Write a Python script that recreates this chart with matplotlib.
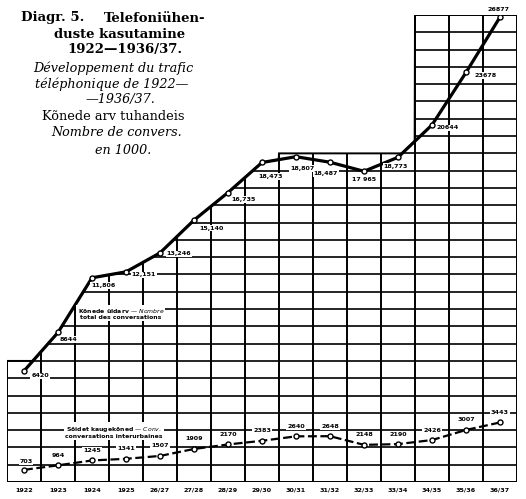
import numpy as np
import matplotlib
matplotlib.use("Agg")
import matplotlib.pyplot as plt
from matplotlib.patches import Polygon

# ---- data (thousands of conversations) ----
periods = ["1922", "1923", "1924", "1925", "26/27", "27/28", "28/29", "29/30",
           "30/31", "31/32", "32/33", "33/34", "34/35", "35/36", "36/37"]
total_calls = [6420, 8644, 11806, 12151, 13246, 15140, 16735, 18473,
               18807, 18487, 17965, 18773, 20644, 23678, 26877]
long_distance = [703, 964, 1245, 1341, 1507, 1909, 2170, 2383,
                 2640, 2648, 2148, 2190, 2426, 3007, 3443]

# ---- layout helpers (pixel offsets for labels: dx, dy; dy>0 up) ----
total_offsets = [(16, -5), (11, -7), (11, -8), (18, -3), (19, -1), (18, -8),
                 (16, -7), (9, -14), (6, -12), (-4, -11), (0, -8), (-2, -9),
                 (16, -3), (20, -3), (-1, 8)]
ld_offsets = [(2, 8)] + [(0, 10)] * 14

W, H = 526, 499
fig = plt.figure(figsize=(W / 100, H / 100), dpi=100)
ax = fig.add_axes([7 / W, (H - 482) / H, 510 / W, 467 / H])
n = len(periods)
x = np.arange(n)
ax.set_xlim(-0.5, n - 0.5)
ax.set_ylim(0, 27000)
ax.axis("off")

# ---- envelope of the grid: area under the curve plus stepped boxes ----
xs = np.linspace(-0.5, n - 0.5, 1501)
curve = np.interp(xs, x, total_calls)
left_slope = total_calls[1] - total_calls[0]
curve = np.where(xs < 0, total_calls[0] + left_slope * xs, curve)
step = np.zeros_like(xs)
step[xs <= 0.5] = 7000
step[(xs >= 7.5) & (xs <= 11.5)] = 19000
step[xs >= 11.5] = 27000
top = np.maximum(curve, step)
poly_pts = np.column_stack([np.r_[xs, xs[::-1]], np.r_[top, np.zeros_like(xs)]])
clip = Polygon(poly_pts, closed=True, transform=ax.transData, fill=False,
               edgecolor="black", lw=1.4)
ax.add_patch(clip)

for yv in range(0, 27001, 1000):
    ln, = ax.plot([-0.5, n - 0.5], [yv, yv], color="black", lw=1.2,
                  solid_capstyle="butt")
    ln.set_clip_path(clip)
for xe in np.arange(-0.5, n, 1.0):
    ln, = ax.plot([xe, xe], [0, 27000], color="black", lw=1.4)
    ln.set_clip_path(clip)

# ---- series ----
ax.plot(x, total_calls, color="black", lw=2.3, zorder=5)
ax.plot(x, total_calls, ls="none", marker="o", ms=3.6, mfc="white",
        mec="black", mew=1.0, zorder=6)
ax.plot(x, long_distance, color="black", lw=1.6, ls=(0, (4, 1.6)), zorder=5)
ax.plot(x, long_distance, ls="none", marker="o", ms=3.6, mfc="white",
        mec="black", mew=1.0, zorder=6)

lab_kw = dict(fontsize=4.6, fontweight="bold", family="DejaVu Sans",
              ha="center", va="center", zorder=7,
              bbox=dict(facecolor="white", edgecolor="none", pad=0.6))


def fmt_total(v):
    if v == 17965:
        return "17 965"
    if 10000 <= v < 20000:
        return f"{v:,}"
    return str(v)


for xi, v, (dx, dy) in zip(x, total_calls, total_offsets):
    ax.annotate(fmt_total(v), (xi, v), xytext=(dx * 0.72, dy * 0.72),
                textcoords="offset points", **lab_kw)
for xi, v, (dx, dy) in zip(x, long_distance, ld_offsets):
    ax.annotate(str(v), (xi, v), xytext=(dx * 0.72, dy * 0.72),
                textcoords="offset points", **lab_kw)

# ---- series names ----
ax.text(2.85, 9750, "Kõnede üldarv — $\\it{Nombre}$\ntotal des conversations",
        fontsize=4.4, fontweight="bold", ha="center", va="center",
        linespacing=1.0, zorder=7,
        bbox=dict(facecolor="white", edgecolor="none", pad=0.8))
ax.text(2.65, 2900, "Sõidet kaugekõned — $\\it{Conv.}$\nconversations interurbaines",
        fontsize=4.4, fontweight="bold", ha="center", va="center",
        linespacing=1.0, zorder=7,
        bbox=dict(facecolor="white", edgecolor="none", pad=0.8))

# ---- category labels ----
for xi, p in zip(x, periods):
    ax.text(xi, -480, p, fontsize=4.6, fontweight="bold", ha="center",
            va="center", clip_on=False)

# ---- title block ----
def ftext(px, py, s, **kw):
    fig.text(px / W, 1 - py / H, s, va="center", family="DejaVu Serif", **kw)

ftext(21, 18, "Diagr. 5.", fontsize=9.5, fontweight="bold", ha="left")
ftext(205, 18, "Telefoniühen-", fontsize=9.5, fontweight="bold", ha="right")
ftext(120, 34, "duste kasutamine", fontsize=9.5, fontweight="bold", ha="center")
ftext(125, 50, "1922—1936/37.", fontsize=9.5, fontweight="bold", ha="center")
ftext(113, 68, "Développement du trafic", fontsize=9.2, style="italic", ha="center")
ftext(112, 84, "téléphonique de 1922—", fontsize=9.2, style="italic", ha="center")
ftext(120, 100, "—1936/37.", fontsize=9.2, style="italic", ha="center")
ftext(113, 117, "Kõnede arv tuhandeis", fontsize=9.3, ha="center")
ftext(117, 133, "Nombre de convers.", fontsize=9.2, style="italic", ha="center")
ftext(123, 150, "en 1000.", fontsize=9.2, style="italic", ha="center")

fig.savefig("out.png", dpi=100, facecolor="white")
